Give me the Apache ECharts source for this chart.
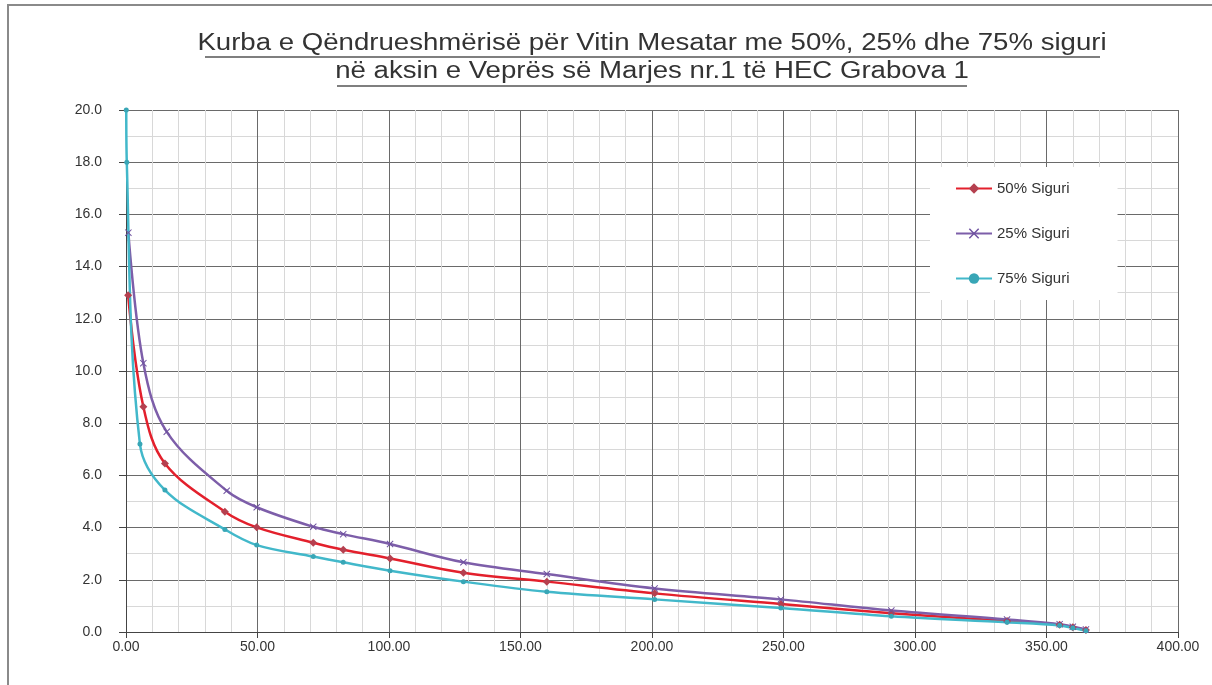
<!DOCTYPE html>
<html>
<head>
<meta charset="utf-8">
<script src="https://cdn.jsdelivr.net/npm/echarts@6/dist/echarts.min.js"></script>
<style>
  html, body { margin: 0; padding: 0; background: #fff; }
  #chart { width: 1212px; height: 685px; }
</style>
</head>
<body>
<div id="chart"></div>
<script>
// values (x = days, y = discharge)
const titleLines = [
  "Kurba e Qëndrueshmërisë për Vitin Mesatar me 50%, 25% dhe 75% siguri",
  "në aksin e Veprës së Marjes nr.1 të HEC Grabova 1"
];
const seriesNames = ["50% Siguri", "25% Siguri", "75% Siguri"];

const x50 = [0.8, 6.6, 14.8, 37.6, 49.7, 71.2, 82.6, 100.4, 128.3, 160, 201, 249, 291, 335, 355, 360, 365];
const y50 = [12.9, 8.63, 6.46, 4.61, 4.01, 3.42, 3.15, 2.82, 2.27, 1.93, 1.48, 1.07, 0.72, 0.42, 0.28, 0.18, 0.08];

const x25 = [0.9, 6.6, 15.5, 38.3, 49.7, 71.2, 82.6, 100.4, 128.3, 160, 201, 249, 291, 335, 355, 360, 365];
const y25 = [15.3, 10.3, 7.67, 5.41, 4.78, 4.03, 3.75, 3.37, 2.67, 2.22, 1.67, 1.25, 0.82, 0.48, 0.3, 0.2, 0.1];

const x75 = [0.1, 0.3, 5.3, 14.8, 37.6, 49.7, 71.2, 82.6, 100.4, 128.3, 160, 201, 249, 291, 335, 355, 360, 365];
const y75 = [20.0, 18.0, 7.2, 5.44, 3.93, 3.33, 2.89, 2.67, 2.35, 1.93, 1.54, 1.25, 0.92, 0.6, 0.37, 0.25, 0.15, 0.05];

const zip = (xs, ys) => xs.map((x, i) => [x, ys[i]]);

const chart = echarts.init(document.getElementById("chart"));

const crossPath = "path://M0,1L1,0L5,4L9,0L10,1L6,5L10,9L9,10L5,6L1,10L0,9L4,5Z";
const font = "Liberation Sans, Arial, sans-serif";

const makeSeries = (name, data, lineColor, markColor, symbol, size) => ({
  name: name,
  type: "line",
  data: data,
  smooth: 0.35,
  symbol: symbol,
  symbolSize: size,
  showAllSymbol: true,
  lineStyle: { color: lineColor, width: 2.5 },
  itemStyle: { color: markColor },
  emphasis: { disabled: true }
});

chart.setOption({
  animation: false,
  backgroundColor: "#fff",
  textStyle: { fontFamily: font },
  graphic: [
    // outer chart frame
    { type: "rect", shape: { x: 8, y: 5, width: 1220, height: 700 },
      style: { fill: "none", stroke: "#8a8a8a", lineWidth: 2 }, silent: true },
    { type: "text", x: 652, y: 44, scaleX: 1.2,
      style: { text: titleLines[0], x: 0, y: 0, align: "center", verticalAlign: "middle",
               fontSize: 23, fill: "#333", fontFamily: font } },
    { type: "text", x: 652, y: 72, scaleX: 1.2,
      style: { text: titleLines[1], x: 0, y: 0, align: "center", verticalAlign: "middle",
               fontSize: 23, fill: "#333", fontFamily: font } },
    // title underlines
    { type: "line", shape: { x1: 205, y1: 57, x2: 1100, y2: 57 }, style: { stroke: "#555", lineWidth: 1.5 }, silent: true },
    { type: "line", shape: { x1: 337, y1: 86, x2: 967, y2: 86 }, style: { stroke: "#555", lineWidth: 1.5 }, silent: true }
  ],
  grid: { left: 126, right: 34, top: 110, bottom: 53 },
  legend: {
    data: seriesNames,
    orient: "vertical",
    left: 930,
    top: 167,
    backgroundColor: "#fff",
    padding: [14, 48, 14, 25],
    itemGap: 30,
    itemWidth: 36,
    itemHeight: 13,
    textStyle: { fontSize: 15, color: "#333" }
  },
  xAxis: {
    type: "value",
    min: 0,
    max: 400,
    interval: 50,
    axisLine: { show: true, onZero: false, lineStyle: { color: "#444" } },
    axisTick: { show: true, length: 6, lineStyle: { color: "#444" } },
    axisLabel: { fontSize: 14, color: "#333", margin: 8, formatter: v => v.toFixed(2) },
    splitLine: { show: true, lineStyle: { color: "#6a6a6a", width: 1 } },
    minorTick: { show: false, splitNumber: 5 },
    minorSplitLine: { show: true, lineStyle: { color: "#d8d8d8", width: 1 } }
  },
  yAxis: {
    type: "value",
    min: 0,
    max: 20,
    interval: 2,
    axisLine: { show: true, onZero: false, lineStyle: { color: "#444" } },
    axisTick: { show: true, length: 7, lineStyle: { color: "#444" } },
    axisLabel: { fontSize: 14, color: "#333", margin: 24, formatter: v => v.toFixed(1) },
    splitLine: { show: true, lineStyle: { color: "#6a6a6a", width: 1 } },
    minorTick: { show: false, splitNumber: 2 },
    minorSplitLine: { show: true, lineStyle: { color: "#d8d8d8", width: 1 } }
  },
  series: [
    makeSeries(seriesNames[0], zip(x50, y50), "#e3202c", "#b5404f", "diamond", 8),
    makeSeries(seriesNames[1], zip(x25, y25), "#7d5ea9", "#6f52a0", crossPath, 7),
    makeSeries(seriesNames[2], zip(x75, y75), "#42b8ca", "#38a6b6", "circle", 5)
  ]
});
</script>
</body>
</html>
